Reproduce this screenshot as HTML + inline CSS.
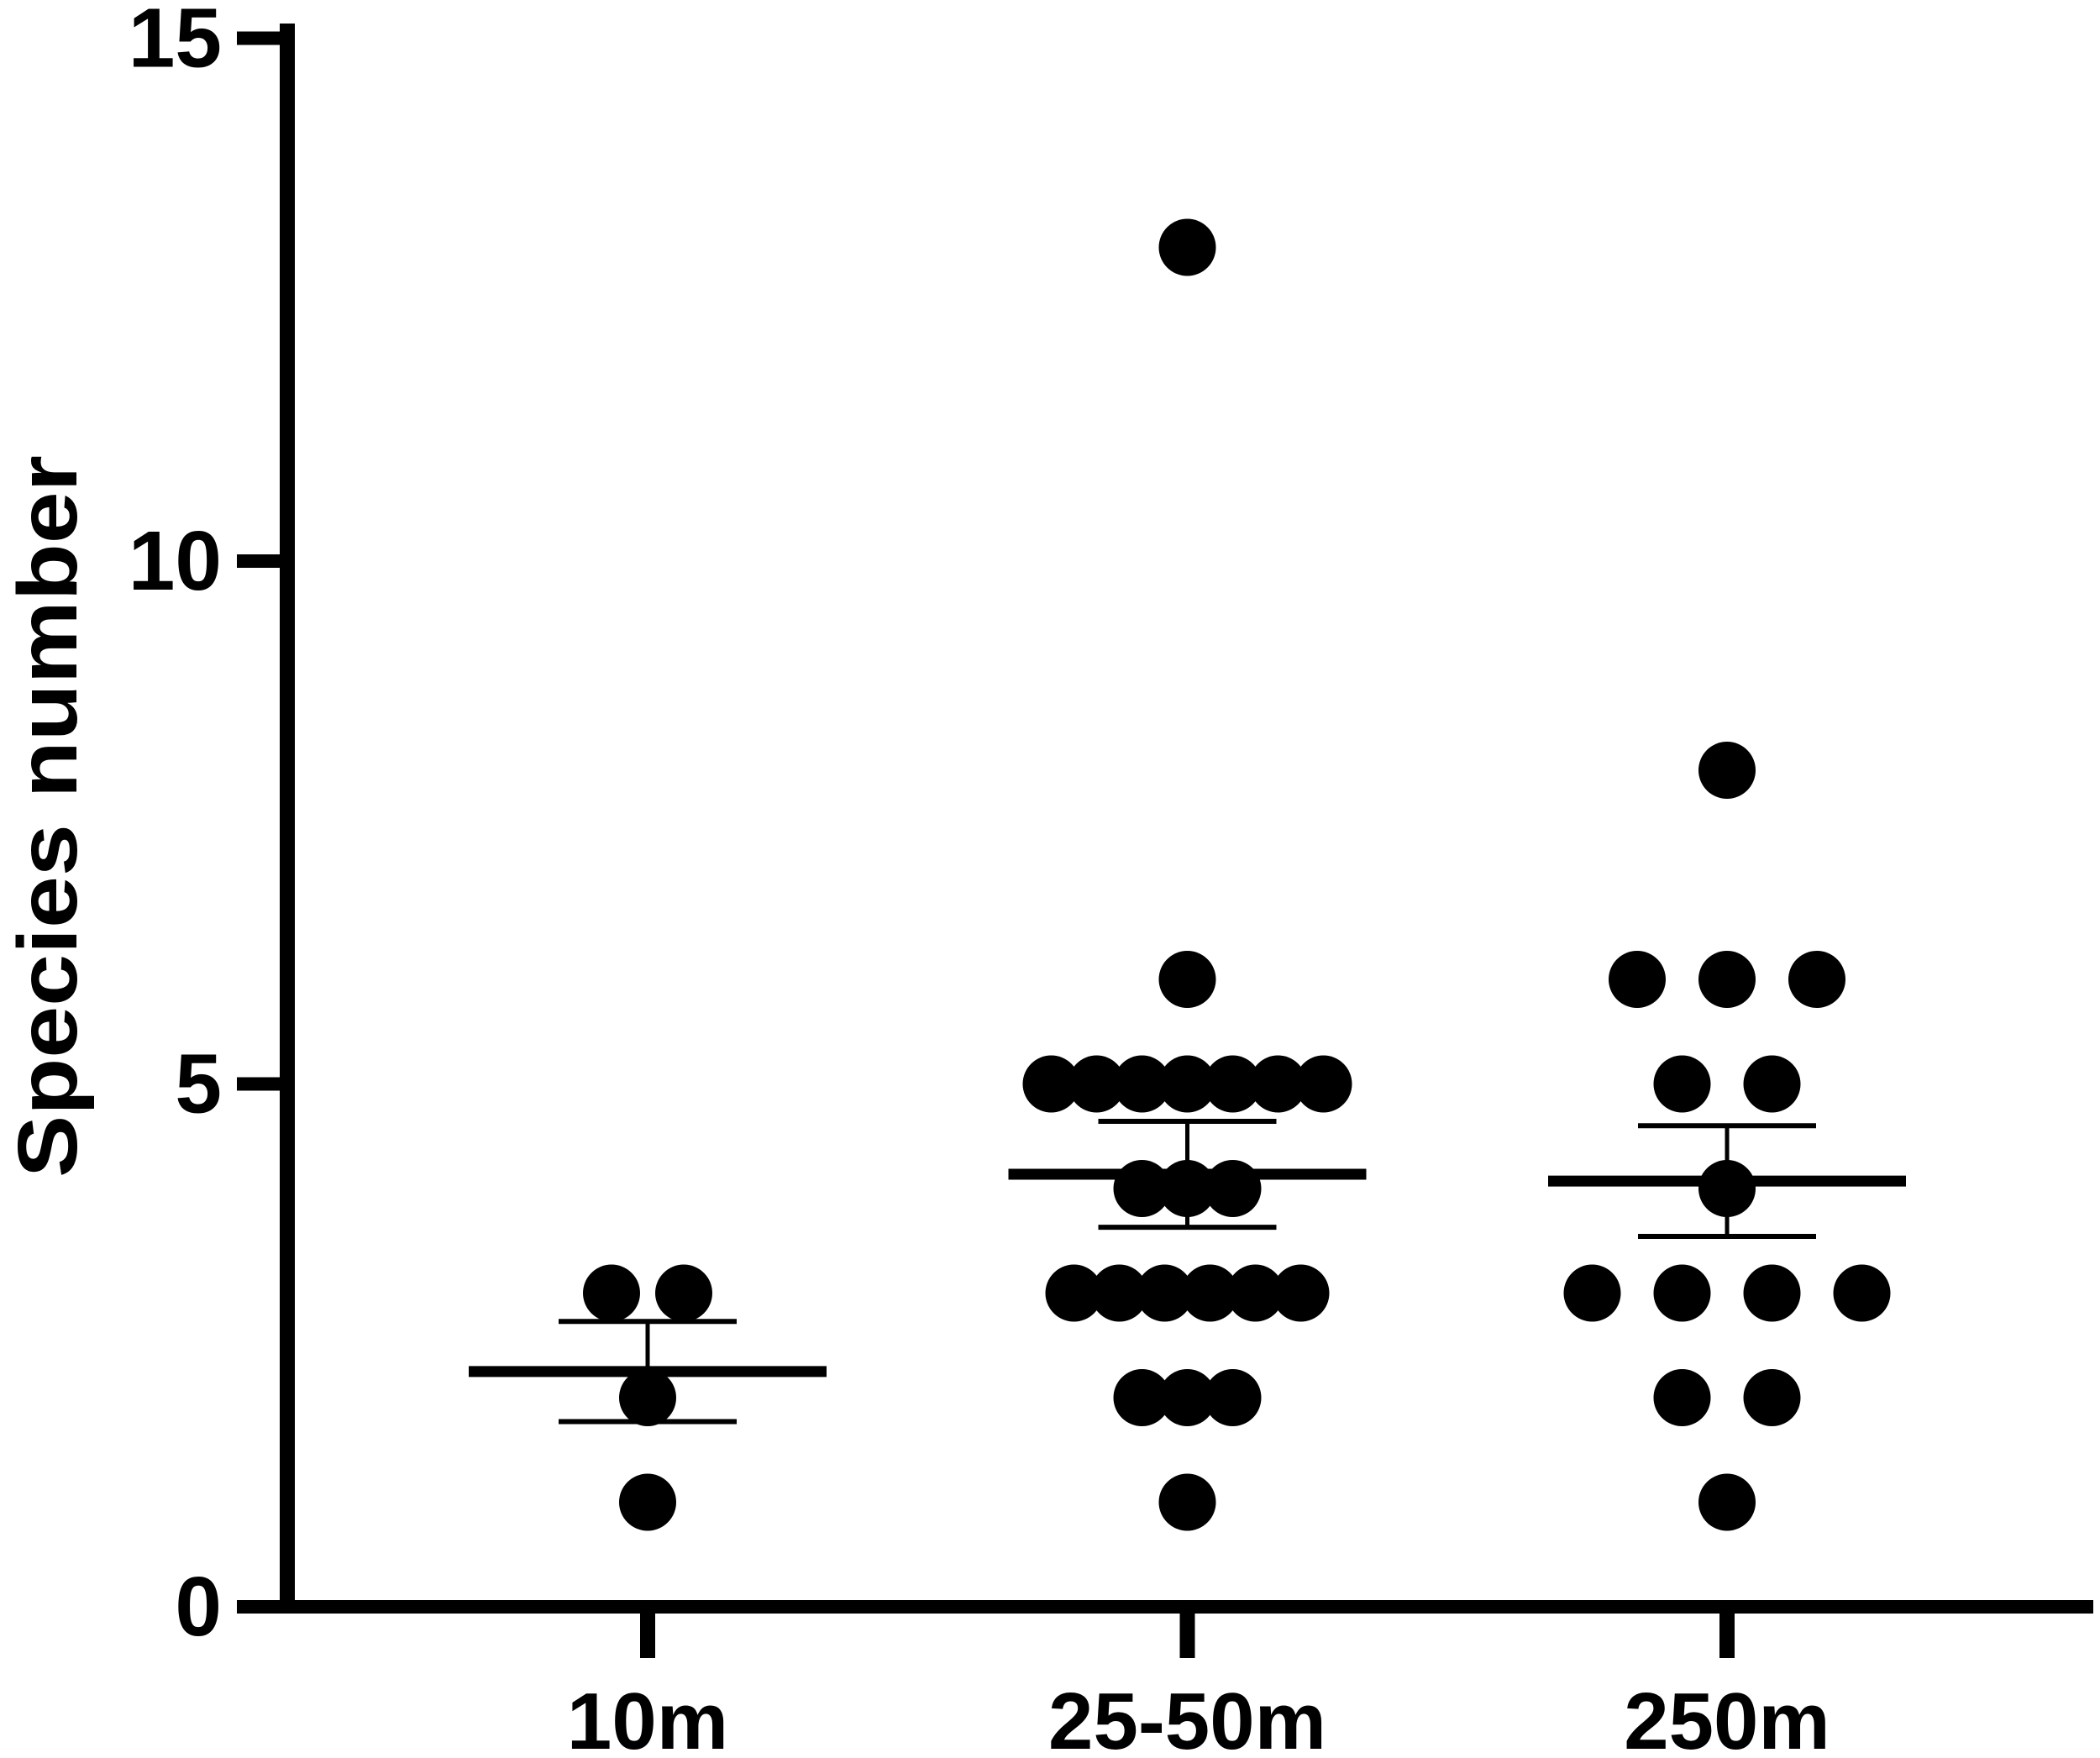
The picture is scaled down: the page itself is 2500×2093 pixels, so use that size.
<!DOCTYPE html>
<html><head><meta charset="utf-8"><style>html,body{margin:0;padding:0;background:#fff}svg{display:block}</style></head>
<body>
<svg id="chart" width="2500" height="2093" viewBox="0 0 2500 2093" xmlns="http://www.w3.org/2000/svg" font-family="Liberation Sans, sans-serif" font-weight="bold">
<g id="axes"></g>
<g id="marks"></g>
<text transform="translate(91,972) rotate(-90)" text-anchor="middle" font-size="100" textLength="860" lengthAdjust="spacingAndGlyphs">Species number</text>
</svg>
<script>
const categories = ["10m", "25-50m", "250m"];
const values10m = [3, 3, 2, 1];
const values2550m = [13, 6, 5, 5, 5, 5, 5, 5, 5, 4, 4, 4, 3, 3, 3, 3, 3, 3, 2, 2, 2, 1];
const values250m = [8, 6, 6, 6, 5, 5, 4, 3, 3, 3, 3, 2, 2, 1];
const yTicks = [0, 5, 10, 15];
const series = [values10m, values2550m, values250m];
const spacing = [86, 54, 107];

const NS = "http://www.w3.org/2000/svg";
const y = v => 1913 - 124.5 * v;
const x = i => 771 + i * 642.5;
const axes = document.getElementById('axes');
const marks = document.getElementById('marks');
function mk(tag, attrs, parent) {
  const e = document.createElementNS(NS, tag);
  for (const k in attrs) e.setAttribute(k, attrs[k]);
  parent.appendChild(e);
  return e;
}
let ya = mk('line', {x1: 342, x2: 342, y1: 28, y2: 1913, stroke: '#000', 'stroke-width': 18}, axes);


let xa = mk('line', {x1: 282, x2: 2492, y1: 1913, y2: 1913, stroke: '#000', 'stroke-width': 16}, axes);


yTicks.forEach(t => {
  const l = mk('line', {x1: 282, x2: 342, y1: y(t), y2: y(t), stroke: '#000', 'stroke-width': 16}, axes);
  
  
  const tx = mk('text', {x: 264, y: y(t) + 34, 'text-anchor': 'end', 'font-size': 100}, axes);
  tx.textContent = t;
  
  
});
categories.forEach((c, i) => {
  const l = mk('line', {x1: x(i), x2: x(i), y1: 1913, y2: 1974, stroke: '#000', 'stroke-width': 18}, axes);
  
  
  const tx = mk('text', {x: x(i), y: 2082, 'text-anchor': 'middle', 'font-size': 96}, axes);
  tx.textContent = c;
  
  
});
series.forEach((vals, i) => {
  const counts = {};
  vals.forEach(v => counts[v] = (counts[v] || 0) + 1);
  const seen = {};
  vals.forEach(v => {
    const n = counts[v];
    const k = seen[v] = (seen[v] || 0) + 1;
    const cx = x(i) + (k - 1 - (n - 1) / 2) * spacing[i];
    const d = mk('circle', {cx: cx, cy: y(v), r: 34, fill: '#000'}, marks);
    
    
  });
  const n = vals.length;
  const mean = vals.reduce((a, b) => a + b, 0) / n;
  const sd = Math.sqrt(vals.reduce((a, b) => a + (b - mean) ** 2, 0) / (n - 1));
  const sem = sd / Math.sqrt(n);
  const stem = mk('line', {x1: x(i), x2: x(i), y1: y(mean + sem), y2: y(mean - sem), stroke: '#000', 'stroke-width': 5}, marks);
  
  
  [mean + sem, mean - sem].forEach(v => {
    const cap = mk('line', {x1: x(i) - 106, x2: x(i) + 106, y1: y(v), y2: y(v), stroke: '#000', 'stroke-width': 6}, marks);
    
    
  });
  const m = mk('line', {x1: x(i) - 213, x2: x(i) + 213, y1: y(mean), y2: y(mean), stroke: '#000', 'stroke-width': 13}, marks);
  
  
});
</script>
</body></html>
